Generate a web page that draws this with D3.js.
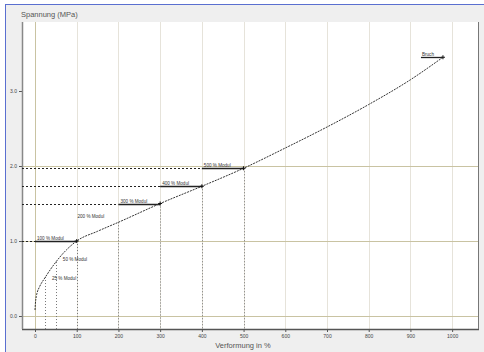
<!DOCTYPE html>
<html><head><meta charset="utf-8">
<script src="https://cdn.jsdelivr.net/npm/d3@7"></script>
<style>body{margin:0;background:#fff}svg{display:block}</style>
</head><body>
<script>
// ---- data ----
const strainPct = [0, 1, 3, 5, 10, 25, 50, 75, 100, 150, 200, 300, 400, 500, 600, 700, 800, 900, 978];
const stressMPa = [0.08, 0.17, 0.26, 0.31, 0.38, 0.52, 0.72, 0.88, 1.0, 1.13, 1.25, 1.5, 1.73, 1.97, 2.24, 2.52, 2.82, 3.15, 3.45];
const xTicks = [0, 100, 200, 300, 400, 500, 600, 700, 800, 900, 1000];
const yTicks = [0, 1, 2, 3];
const yGridLines = [0, 1, 2];
const modulStrain = [100, 300, 400, 500];
const modulStress = [1.0, 1.5, 1.73, 1.97];
const modulLabels = ["100 % Modul", "300 % Modul", "400 % Modul", "500 % Modul"];
const smallModulStrain = [25, 50, 200];
const smallModulStress = [0.52, 0.72, 1.25];
const smallModulLabels = ["25 % Modul", "50 % Modul", "200 % Modul"];
const breakStrain = 978, breakStress = 3.45, breakLabel = "Bruch";
const xTitle = "Verformung in %", yTitle = "Spannung (MPa)";

const W = 484, H = 352;
const svg = d3.select("body").append("svg").attr("width", W).attr("height", H)
  .style("font-family", "Arial, 'Liberation Sans', sans-serif");

// frame
svg.append("rect").attr("x", 5).attr("y", 4).attr("width", W - 5).attr("height", H - 4).attr("fill", "#efefef");
svg.append("line").attr("x1", 5).attr("x2", W).attr("y1", 4.5).attr("y2", 4.5).attr("stroke", "#5a6fd0").attr("stroke-width", 1);
svg.append("line").attr("x1", 5.5).attr("x2", 5.5).attr("y1", 4).attr("y2", H).attr("stroke", "#5a6fd0").attr("stroke-width", 1);

const L = 22, R = 478, T = 22, B = 329;
svg.append("rect").attr("x", L).attr("y", T).attr("width", R - L).attr("height", B - T).attr("fill", "#fff");

const x = d3.scaleLinear().domain([-31.2, 1062]).range([L, R]);
const y = d3.scaleLinear().domain([-0.173, 3.92]).range([B, T]);

// vertical grid
svg.append("g").selectAll("line").data(xTicks).join("line")
  .attr("x1", d => Math.round(x(d)) + 0.5).attr("x2", d => Math.round(x(d)) + 0.5)
  .attr("y1", T).attr("y2", B)
  .attr("stroke", d => d === 0 ? "#c9c3a2" : "#e6e3da").attr("stroke-width", 1);
// horizontal grid
svg.append("g").selectAll("line").data(yGridLines).join("line")
  .attr("x1", L).attr("x2", R)
  .attr("y1", d => Math.round(y(d)) + 0.5).attr("y2", d => Math.round(y(d)) + 0.5)
  .attr("stroke", "#c9c3a2").attr("stroke-width", 1);

// axes
const xAxis = svg.append("g").attr("transform", `translate(0,${B})`)
  .call(d3.axisBottom(x).tickValues(xTicks).tickSize(3).tickPadding(2).tickFormat(d3.format("d")));
const yAxis = svg.append("g").attr("transform", `translate(${L},0)`)
  .call(d3.axisLeft(y).tickValues(yTicks).tickSize(3).tickPadding(2).tickFormat(d3.format(".1f")));
[xAxis, yAxis].forEach(a => {
  a.select(".domain").remove();
  a.selectAll(".tick line").attr("stroke", "#555");
  a.selectAll(".tick text").attr("fill", "#444").style("font-size", "5px");
});
svg.append("line").attr("x1", L).attr("x2", R + 1).attr("y1", B + 0.5).attr("y2", B + 0.5).attr("stroke", "#555").attr("stroke-width", 1.5);
svg.append("line").attr("x1", L + 0.5).attr("x2", L + 0.5).attr("y1", T).attr("y2", B).attr("stroke", "#888").attr("stroke-width", 1.5);
svg.append("line").attr("x1", R + 0.5).attr("x2", R + 0.5).attr("y1", T).attr("y2", B).attr("stroke", "#777").attr("stroke-width", 1);

// titles
svg.append("text").attr("x", 21).attr("y", 17).text(yTitle).attr("fill", "#555").style("font-size", "7.5px");
svg.append("text").attr("x", 243).attr("y", 348).attr("text-anchor", "middle").text(xTitle).attr("fill", "#555").style("font-size", "7.5px");

// vertical dotted drop lines
const allDropS = smallModulStrain.concat(modulStrain);
const allDropV = smallModulStress.concat(modulStress);
svg.append("g").selectAll("line").data(allDropS).join("line")
  .attr("x1", d => Math.round(x(d)) + 0.5).attr("x2", d => Math.round(x(d)) + 0.5)
  .attr("y1", (d, i) => y(allDropV[i])).attr("y2", B)
  .attr("stroke", "#777").attr("stroke-width", 1).attr("stroke-dasharray", "1,2");

// horizontal dashed + solid modul segments
modulStrain.forEach((s, i) => {
  const yy = Math.round(y(modulStress[i])) + 0.5;
  const x0 = x(s - 100);
  svg.append("line").attr("x1", L).attr("x2", x0).attr("y1", yy).attr("y2", yy)
    .attr("stroke", "#222").attr("stroke-width", 1).attr("stroke-dasharray", "2,2");
  svg.append("line").attr("x1", x0).attr("x2", x(s)).attr("y1", yy).attr("y2", yy)
    .attr("stroke", "#222").attr("stroke-width", 1.3);
  svg.append("text").attr("x", x0 + 2).attr("y", yy - 2).text(modulLabels[i])
    .attr("fill", "#333").style("font-size", "4.6px");
});

// small modul labels
const smallOff = [[6.5, 3], [7, -1], [-41, -4]];
smallModulStrain.forEach((s, i) => {
  svg.append("text").attr("x", x(s) + smallOff[i][0]).attr("y", y(smallModulStress[i]) + smallOff[i][1])
    .text(smallModulLabels[i]).attr("fill", "#333").style("font-size", "4.6px");
});

// curve
const pts = strainPct.map((s, i) => [s, stressMPa[i]]);
svg.append("path").datum(pts)
  .attr("d", d3.line().x(d => x(d[0])).y(d => y(d[1])).curve(d3.curveMonotoneX))
  .attr("fill", "none").attr("stroke", "#333").attr("stroke-width", 1).attr("stroke-dasharray", "2,1");

// markers
const markS = modulStrain.concat([breakStrain]);
const markV = modulStress.concat([breakStress]);
svg.append("g").selectAll("path").data(markS).join("path")
  .attr("d", (d, i) => { const px = x(d), py = y(markV[i]); return `M${px-2},${py}L${px+2},${py}M${px},${py-2}L${px},${py+2}`; })
  .attr("stroke", "#111").attr("stroke-width", 1);

// Bruch
const bx = x(breakStrain), by = Math.round(y(breakStress)) + 0.5;
svg.append("line").attr("x1", bx - 22).attr("x2", bx).attr("y1", by).attr("y2", by).attr("stroke", "#222").attr("stroke-width", 1.3);
svg.append("text").attr("x", bx - 21).attr("y", by - 2).text(breakLabel).attr("fill", "#333").style("font-size", "4.6px");
</script>
</body></html>
